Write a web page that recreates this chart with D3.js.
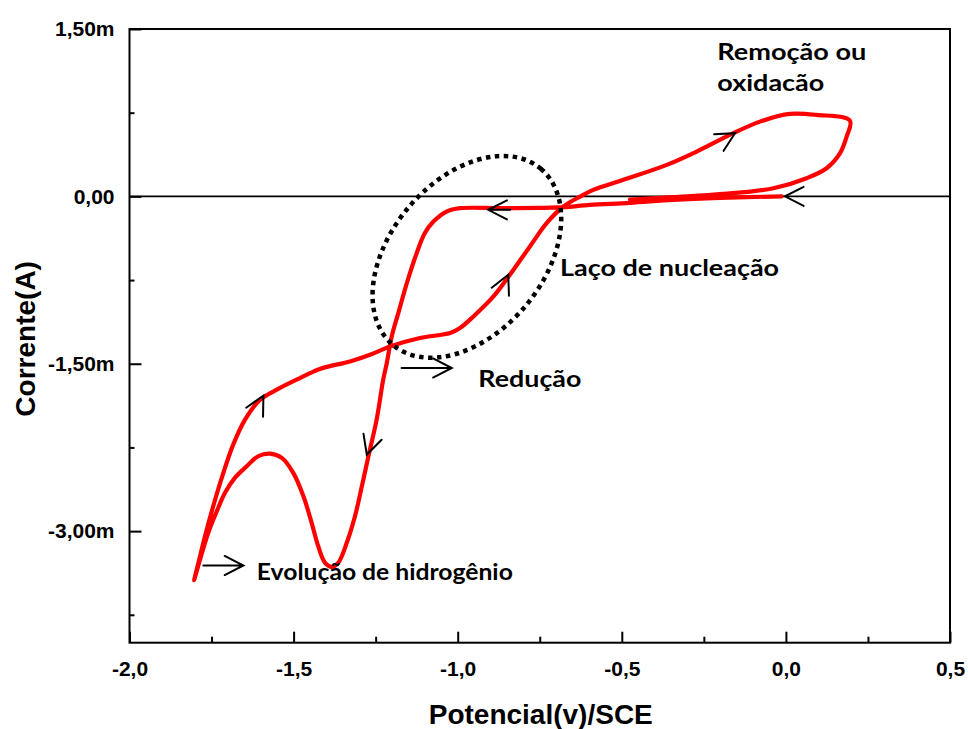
<!DOCTYPE html>
<html>
<head>
<meta charset="utf-8">
<script src="https://cdn.jsdelivr.net/npm/d3@7"></script>
<style>
  html, body { margin: 0; padding: 0; background: #fff; }
  svg { display: block; }
</style>
</head>
<body>
<svg id="chart" width="968" height="729"></svg>
<script>
// Cyclic voltammogram: potential (V vs SCE) and current (mA), in scan order.
// Cathodic sweep from 0 V down to -1.8 V.
const cathodicPotential = [-0.013, -0.201, -0.344, -0.475, -0.597, -0.679, -0.749, -0.871, -0.993, -1.034,
  -1.074, -1.100, -1.125, -1.155, -1.181, -1.201, -1.216, -1.227, -1.247, -1.272,
  -1.292, -1.313, -1.338, -1.364, -1.384, -1.404, -1.425, -1.445, -1.470, -1.501,
  -1.536, -1.572, -1.608, -1.643, -1.679, -1.709, -1.734, -1.760, -1.785, -1.803];
const cathodicCurrent = [0.000, -0.013, -0.031, -0.058, -0.076, -0.097, -0.103, -0.106, -0.106, -0.136,
  -0.226, -0.329, -0.509, -0.777, -1.046, -1.255, -1.493, -1.643, -2.001, -2.329,
  -2.598, -2.867, -3.105, -3.284, -3.320, -3.284, -3.135, -2.926, -2.688, -2.478,
  -2.344, -2.305, -2.329, -2.419, -2.523, -2.657, -2.822, -3.015, -3.254, -3.440];
// Anodic sweep from -1.8 V up to +0.2 V and back towards 0 V.
const anodicPotential = [-1.790, -1.770, -1.745, -1.714, -1.684, -1.648, -1.602, -1.551, -1.491, -1.420,
  -1.328, -1.267, -1.206, -1.115, -1.023, -0.993, -0.952, -0.891, -0.841, -0.780,
  -0.729, -0.678, -0.627, -0.587, -0.495, -0.363, -0.272, -0.160, -0.079, 0.012,
  0.094, 0.195, 0.185, 0.165, 0.124, 0.063, -0.038, -0.191, -0.343, -0.475];
const anodicCurrent = [-3.284, -3.046, -2.777, -2.478, -2.225, -2.001, -1.822, -1.732, -1.643, -1.547,
  -1.479, -1.419, -1.345, -1.269, -1.225, -1.180, -1.076, -0.897, -0.703, -0.449,
  -0.240, -0.091, -0.002, 0.058, 0.148, 0.282, 0.401, 0.566, 0.670, 0.739,
  0.730, 0.679, 0.535, 0.387, 0.252, 0.163, 0.073, 0.022, -0.007, -0.030];

// Axis ticks
const xMajorTicks = [-2.0, -1.5, -1.0, -0.5, 0.0, 0.5];
const xTickLabels = ["-2,0", "-1,5", "-1,0", "-0,5", "0,0", "0,5"];
const xMinorTicks = [-1.75, -1.25, -0.75, -0.25, 0.25];
const yMajorTicks = [-3.0e-3, -1.5e-3, 0, 1.5e-3];
const yTickLabels = ["-3,00m", "-1,50m", "0,00", "1,50m"];
const yMinorTicks = [-3.75e-3, -2.25e-3, -0.75e-3, 0.75e-3];

// Scan direction marks: tip position (V, mA), pointing angle in degrees (screen), with optional shaft
const arrowTips = [
  { v: -0.003, i: 0.0, angle: 180, shaft: 0 },
  { v: -0.907, i: -0.121, angle: 180, shaft: 22 },
  { v: -0.155, i: 0.566, angle: -30, shaft: 0 },
  { v: -0.846, i: -0.703, angle: -65, shaft: 0 },
  { v: -1.592, i: -1.786, angle: -62, shaft: 0 },
  { v: -1.277, i: -2.314, angle: 108, shaft: 0 }
];
// Straight pointer arrows next to labels: tail and tip potentials at a given current (mA)
const pointerArrows = [
  { from: -1.171, to: -1.018, i: -1.538 },
  { from: -1.775, to: -1.653, i: -3.308 }
];

// Text notes: anchor (V, mA), text width in px
const notes = [
  { text: "Remoção ou", v: -0.209, i: 1.222, w: 149 },
  { text: "oxidacão", v: -0.209, i: 0.944, w: 107, clip: true },
  { text: "Laço de nucleação", v: -0.688, i: -0.713, w: 219 },
  { text: "Redução", v: -0.937, i: -1.705, w: 103 },
  { text: "Evolução de hidrogênio", v: -1.612, i: -3.437, w: 256 }
];

// Dotted ellipse around the nucleation loop: centre (V, mA)
const loopCentre = { v: -0.972, i: -0.542 };

const svg = d3.select("#chart");
const plotLeft = 129.5, plotRight = 950, plotTop = 29, plotBottom = 642.7;

const x = d3.scaleLinear().domain([-2.0, 0.5]).range([plotLeft, plotRight]);
const y = d3.scaleLinear().domain([-4.0e-3, 1.5e-3]).range([plotBottom, plotTop]);

const axisFont = "'Liberation Sans', Arial, sans-serif";
const noteFont = "Lato, 'Open Sans', sans-serif";

// Zero-current reference line
svg.append("line")
  .attr("x1", plotLeft).attr("x2", plotRight)
  .attr("y1", y(0)).attr("y2", y(0))
  .attr("stroke", "#000").attr("stroke-width", 1.8);

// Axes with inward ticks
const xAxis = d3.axisBottom(x).tickValues(xMajorTicks)
  .tickFormat((d, k) => xTickLabels[k]).tickSize(-11).tickPadding(18.5);
const gx = svg.append("g").attr("transform", `translate(0,${plotBottom})`).call(xAxis);
gx.select(".domain").remove();
gx.selectAll(".tick line").attr("stroke", "#000").attr("stroke-width", 2);
gx.selectAll(".tick text").attr("font-family", axisFont).attr("font-weight", "bold")
  .attr("font-size", 21).attr("fill", "#000");

const gxm = svg.append("g").attr("transform", `translate(0,${plotBottom})`)
  .call(d3.axisBottom(x).tickValues(xMinorTicks).tickSize(-6).tickFormat(""));
gxm.select(".domain").remove();
gxm.selectAll(".tick line").attr("stroke", "#000").attr("stroke-width", 2);

const yAxis = d3.axisLeft(y).tickValues(yMajorTicks)
  .tickFormat((d, k) => yTickLabels[k]).tickSize(-12).tickPadding(15);
const gy = svg.append("g").attr("transform", `translate(${plotLeft},0)`).call(yAxis);
gy.select(".domain").remove();
gy.selectAll(".tick line").attr("stroke", "#000").attr("stroke-width", 2);
gy.selectAll(".tick text").attr("font-family", axisFont).attr("font-weight", "bold")
  .attr("font-size", 21).attr("fill", "#000");

const gym = svg.append("g").attr("transform", `translate(${plotLeft},0)`)
  .call(d3.axisLeft(y).tickValues(yMinorTicks).tickSize(-5).tickFormat(""));
gym.select(".domain").remove();
gym.selectAll(".tick line").attr("stroke", "#000").attr("stroke-width", 2);

// Plot frame
svg.append("rect")
  .attr("x", plotLeft).attr("y", plotTop)
  .attr("width", plotRight - plotLeft).attr("height", plotBottom - plotTop)
  .attr("fill", "none").attr("stroke", "#000").attr("stroke-width", 2);

// Axis titles
svg.append("text")
  .attr("x", (plotLeft + plotRight) / 2 + 1).attr("y", 724)
  .attr("text-anchor", "middle")
  .attr("font-family", axisFont).attr("font-weight", "bold").attr("font-size", 28)
  .text("Potencial(v)/SCE");
svg.append("text")
  .attr("transform", `translate(35,${(plotTop + plotBottom) / 2 + 3}) rotate(-90)`)
  .attr("text-anchor", "middle")
  .attr("font-family", axisFont).attr("font-weight", "bold").attr("font-size", 28)
  .text("Corrente(A)");

// Voltammogram trace
const scan = cathodicPotential.map((v, k) => [v, cathodicCurrent[k] * 1e-3])
  .concat(anodicPotential.map((v, k) => [v, anodicCurrent[k] * 1e-3]));
const line = d3.line()
  .x(d => x(d[0])).y(d => y(d[1]))
  .curve(d3.curveCatmullRom.alpha(0.5));
svg.append("path")
  .datum(scan)
  .attr("d", line)
  .attr("fill", "none")
  .attr("stroke", "#ff0000")
  .attr("stroke-width", 4.2)
  .attr("stroke-linejoin", "round")
  .attr("stroke-linecap", "round");

// Dotted ellipse around the nucleation loop
svg.append("ellipse")
  .attr("transform", `translate(${x(loopCentre.v)},${y(loopCentre.i * 1e-3)}) rotate(-50)`)
  .attr("rx", 115).attr("ry", 76.5)
  .attr("fill", "none")
  .attr("stroke", "#000")
  .attr("stroke-width", 4.5)
  .attr("stroke-dasharray", "4.5 4.5");

// Arrow heads
const armLen = 21, halfAngle = 27;
function chevron(tx, ty, angleDeg, shaft) {
  const a = angleDeg * Math.PI / 180;
  const back = a + Math.PI;
  const h = halfAngle * Math.PI / 180;
  const p1 = [tx + armLen * Math.cos(back - h), ty + armLen * Math.sin(back - h)];
  const p2 = [tx + armLen * Math.cos(back + h), ty + armLen * Math.sin(back + h)];
  let d = `M${p1[0]},${p1[1]}L${tx},${ty}L${p2[0]},${p2[1]}`;
  if (shaft > 0) d += `M${tx},${ty}L${tx + shaft * Math.cos(back)},${ty + shaft * Math.sin(back)}`;
  return d;
}
const arrowLayer = svg.append("g")
  .attr("fill", "none").attr("stroke", "#000").attr("stroke-width", 2)
  .attr("stroke-linecap", "round").attr("stroke-linejoin", "miter");
arrowTips.forEach(t => {
  arrowLayer.append("path").attr("d", chevron(x(t.v), y(t.i * 1e-3), t.angle, t.shaft));
});
pointerArrows.forEach(p => {
  const yy = y(p.i * 1e-3);
  arrowLayer.append("path")
    .attr("d", `M${x(p.from)},${yy}L${x(p.to)},${yy}` + chevron(x(p.to), yy, 0, 0));
});

// Clip for the wrapped note that runs into the trace area
svg.append("clipPath").attr("id", "noteClip")
  .append("rect").attr("x", 0).attr("y", 0).attr("width", 968).attr("height", 94);

notes.forEach(n => {
  const t = svg.append("text")
    .attr("x", x(n.v)).attr("y", y(n.i * 1e-3))
    .attr("font-family", noteFont).attr("font-weight", "bold").attr("font-size", 23)
    .attr("fill", "#000")
    .attr("textLength", n.w).attr("lengthAdjust", "spacingAndGlyphs")
    .text(n.text);
  if (n.clip) t.attr("clip-path", "url(#noteClip)");
});
</script>
</body>
</html>
